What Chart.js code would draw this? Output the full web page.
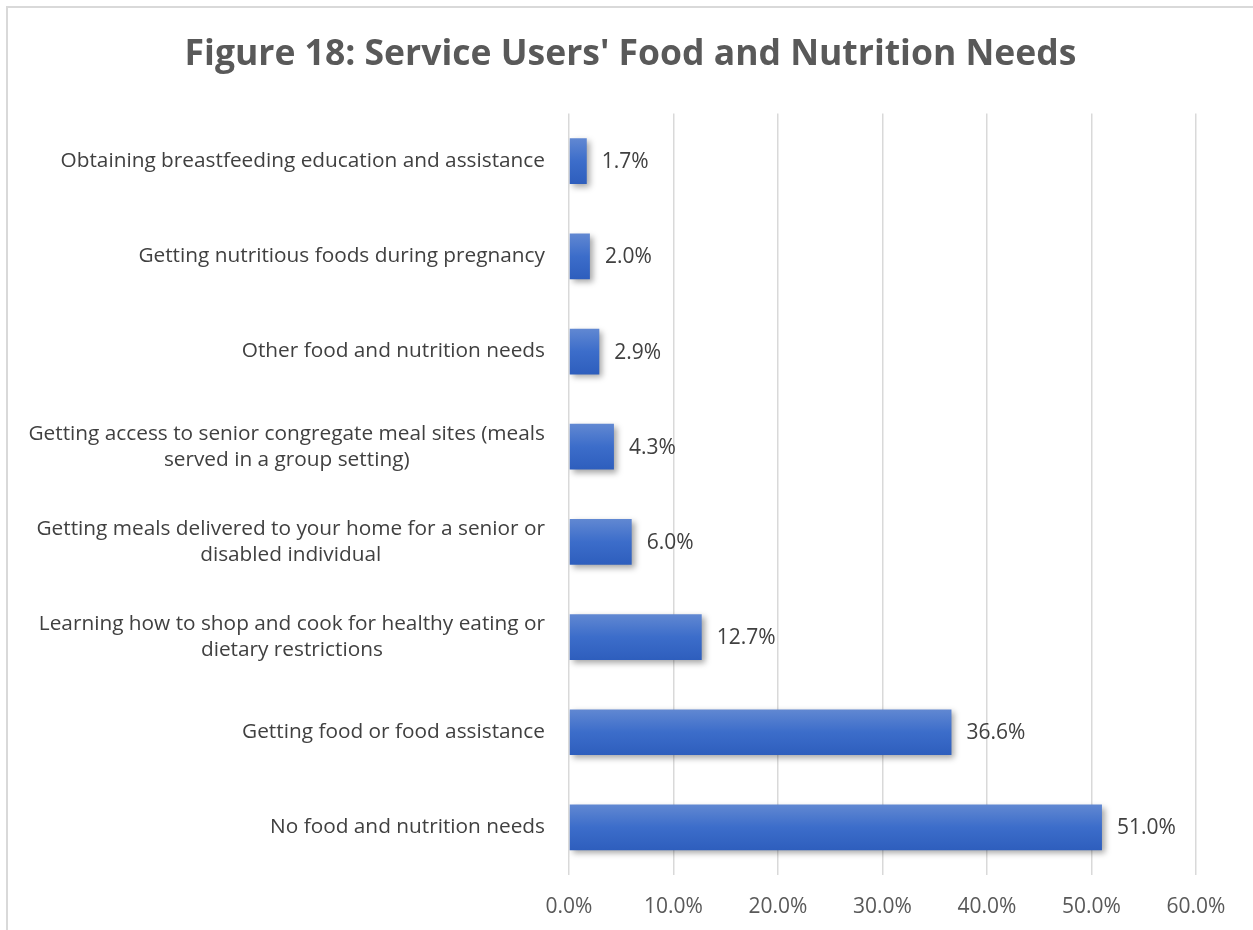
<!DOCTYPE html>
<html lang="en">
<head>
    <meta charset="UTF-8">
    <title>Figure 18: Service Users' Food and Nutrition Needs</title>
    <script src="https://cdn.jsdelivr.net/npm/chart.js"></script>
    <style>
        body { margin: 0; overflow: hidden; background: #fff; }
        .cadre {
            position: absolute; left: 6px; top: 6px;
            width: 1300px; height: 1000px;
            border-top: 2px solid #d9d9d9; border-left: 2px solid #d9d9d9;
        }
        #graphique { position: absolute; left: 0; top: 0; }
    </style>
</head>
<body>

<div class="cadre">
    <canvas id="graphique" width="1245" height="922" style="width:1245px;height:922px"></canvas>
</div>

<script>
    // categories, top to bottom
    const categories = [
        ['Obtaining breastfeeding education and assistance'],
        ['Getting nutritious foods during pregnancy'],
        ['Other food and nutrition needs'],
        ['Getting access to senior congregate meal sites (meals', 'served in a group setting)'],
        ['Getting meals delivered to your home for a senior or', 'disabled individual'],
        ['Learning how to shop and cook for healthy eating or', 'dietary restrictions'],
        ['Getting food or food assistance'],
        ['No food and nutrition needs']
    ];
    const shares = [1.7, 2.0, 2.9, 4.3, 6.0, 12.7, 36.6, 51.0];
    const xTicks = [0, 10, 20, 30, 40, 50, 60];

    const police = '"Open Sans", "DejaVu Sans", sans-serif';
    const BAR_PCT = 0.48;

    function barFill(c) {
        const chart = c.chart;
        if (!chart.chartArea || !chart.scales.y) return '#3a6cc8';
        const y = chart.scales.y.getPixelForValue(c.dataIndex);
        const half = chart.scales.y.height / categories.length * BAR_PCT / 2;
        const g = chart.ctx.createLinearGradient(0, y - half, 0, y + half);
        g.addColorStop(0, '#6188d2');
        g.addColorStop(0.5, '#3c6dca');
        g.addColorStop(1, '#2e5ebd');
        return g;
    }

    const ombre = {
        id: 'ombre',
        beforeDatasetsDraw(chart) {
            const ctx = chart.ctx;
            ctx.save();
            ctx.shadowColor = 'rgba(0,0,0,0.35)';
            ctx.shadowBlur = 6;
            ctx.shadowOffsetX = 3;
            ctx.shadowOffsetY = 3;
        },
        afterDatasetsDraw(chart) {
            chart.ctx.restore();
        }
    };

    const etiquettes = {
        id: 'etiquettes',
        afterDraw(chart) {
            const ctx = chart.ctx;
            const yScale = chart.scales.y;
            ctx.save();
            // category labels, lines centred on the widest line, block right-aligned
            ctx.font = '20.8px ' + police;
            ctx.fillStyle = '#404040';
            ctx.textAlign = 'center';
            ctx.textBaseline = 'middle';
            const droite = chart.chartArea.left - 24;
            const interligne = 26;
            categories.forEach((lignes, i) => {
                const y = yScale.getPixelForValue(i);
                const w = Math.max(...lignes.map(l => ctx.measureText(l).width));
                const cx = droite - w / 2;
                const y0 = y - (lignes.length - 1) * interligne / 2;
                lignes.forEach((l, k) => ctx.fillText(l, cx, y0 + k * interligne));
            });
            // value labels
            ctx.font = '21px ' + police;
            ctx.textAlign = 'left';
            const meta = chart.getDatasetMeta(0);
            meta.data.forEach((bar, i) => {
                ctx.fillText(shares[i].toFixed(1) + '%', bar.x + 15, bar.y + 1);
            });
            ctx.restore();
        }
    };

    const ctx = document.getElementById('graphique').getContext('2d');

    const chart = new Chart(ctx, {
        type: 'bar',
        data: {
            labels: categories.map(l => l.join(' ')),
            datasets: [{
                data: shares,
                backgroundColor: barFill,
                borderWidth: 0,
                categoryPercentage: 1,
                barPercentage: BAR_PCT
            }]
        },
        options: {
            indexAxis: 'y',
            responsive: false,
            animation: false,
            layout: { padding: { left: 57, right: 57, top: 0, bottom: 0 } },
            scales: {
                x: {
                    min: 0,
                    max: 60,
                    afterBuildTicks(scale) {
                        scale.ticks = xTicks.map(v => ({ value: v }));
                    },
                    afterFit(scale) { scale.height = 55; },
                    grid: { color: '#d9d9d9', lineWidth: 1.5, drawTicks: false },
                    border: { display: false },
                    ticks: {
                        padding: 19,
                        color: '#595959',
                        font: { family: police, size: 21 },
                        callback: v => v.toFixed(1) + '%'
                    }
                },
                y: {
                    afterFit(scale) { scale.width = 504; },
                    grid: { display: false },
                    border: { display: false },
                    ticks: { display: false }
                }
            },
            plugins: {
                legend: { display: false },
                tooltip: { enabled: false },
                title: {
                    display: true,
                    text: "Figure 18: Service Users' Food and Nutrition Needs",
                    color: '#595959',
                    font: { family: police, size: 35.5, weight: 'bold' },
                    padding: { top: 26, bottom: 37 }
                }
            }
        },
        plugins: [ombre, etiquettes]
    });
</script>

</body>
</html>
